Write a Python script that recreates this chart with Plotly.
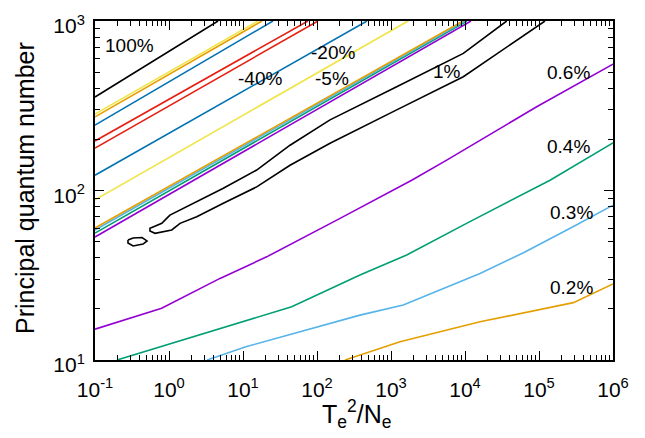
import math
import plotly.graph_objects as go

# ---- data (x = Te^2/Ne, y = principal quantum number) ----
black_top_x = [0.1, 4.6]
black_top_y = [356, 1000]

yellow_a_x = [0.1, 16.0]
yellow_a_y = [282, 1000]
orange_a_x = [0.1, 18.1]
orange_a_y = [272, 1000]
blue_a_x = [0.1, 25.4]
blue_a_y = [243, 1000]
red_a_x = [0.1, 75.5]
red_a_y = [196, 1000]
red_b_x = [0.1, 103]
red_b_y = [178, 1000]
blue_b_x = [0.1, 474]
blue_b_y = [123, 1000]
yellow_b_x = [0.1, 1700]
yellow_b_y = [88, 1000]
orange_b_x = [0.1, 9400]
orange_b_y = [60.1, 1000]
sky_b_x = [0.1, 10000]
sky_b_y = [58.5, 1000]
green_b_x = [0.1, 10640]
green_b_y = [56.1, 1000]
purple_b_x = [0.1, 12050]
purple_b_y = [53.2, 1000]

one_pct_x = [36600, 9490, 1194, 150, 43.2, 15.3, 5.42, 1.92, 1.03, 0.93, 0.80, 0.553, 0.553,
             0.647, 1.09, 1.41, 2.37, 5.42, 15.3, 43.2, 150, 1194, 9490, 120500]
one_pct_y = [1000, 644, 409, 261, 185, 132, 103, 82, 71.6, 68.5, 64.0, 59.8, 57.7,
             55.9, 58.5, 64.0, 70.0, 84.0, 105, 141, 190, 299, 469, 1000]
island_x = [0.279, 0.327, 0.432, 0.505, 0.446, 0.327, 0.279, 0.279]
island_y = [51.0, 52.5, 52.8, 50.4, 48.3, 47.1, 49.0, 51.0]

p06_x = [0.1, 0.796, 4.89, 20.9, 205, 1905, 5660, 93100, 1e6]
p06_y = [15.2, 20.2, 30.3, 40.6, 68.5, 115, 151, 312, 557]
p04_x = [0.198, 45.5, 381, 1630, 10500, 141000, 1e6]
p04_y = [10, 20.6, 31.7, 41.6, 64.0, 115, 191]
p03_x = [3.27, 11.2, 381, 1466, 15960, 60800, 288000, 1e6]
p03_y = [10, 12.0, 18.4, 21.1, 32.4, 42.8, 61.1, 82.0]
p02_x = [239, 1324, 15960, 291000, 1e6]
p02_y = [10, 12.8, 16.8, 21.8, 28.1]

label_text = ["100%", "-40%", "-20%", "-5%", "1%", "0.6%", "0.4%", "0.3%", "0.2%"]
label_x = [0.297, 17.0, 164, 160, 5710, 254000, 254000, 279000, 279000]
label_y = [721, 461, 656, 461, 507, 500, 181, 74.6, 26.6]

x_tickvals = [0.1, 1, 10, 100, 1000, 1e4, 1e5, 1e6]
x_ticktext = ["10<sup>-1</sup>", "10<sup>0</sup>", "10<sup>1</sup>", "10<sup>2</sup>",
              "10<sup>3</sup>", "10<sup>4</sup>", "10<sup>5</sup>", "10<sup>6</sup>"]
y_tickvals = [10, 100, 1000]
y_ticktext = ["10<sup>1</sup>", "10<sup>2</sup>", "10<sup>3</sup>"]

x_title = "T<sub>e</sub><sup>2</sup>/N<sub>e</sub>"
y_title = "Principal quantum number"

PURPLE = "#9400D3"
GREEN = "#009E73"
SKY = "#56B4E9"
ORANGE = "#E69F00"
YELLOW = "#F0E442"
BLUE = "#0072B2"
RED = "#E51E10"
BLACK = "#000000"
FONT = "Liberation Sans, Arial, sans-serif"

series = [
    (black_top_x, black_top_y, BLACK),
    (blue_a_x, blue_a_y, BLUE),
    (orange_a_x, orange_a_y, ORANGE),
    (yellow_a_x, yellow_a_y, YELLOW),
    (red_a_x, red_a_y, RED),
    (red_b_x, red_b_y, RED),
    (blue_b_x, blue_b_y, BLUE),
    (yellow_b_x, yellow_b_y, YELLOW),
    (purple_b_x, purple_b_y, PURPLE),
    (green_b_x, green_b_y, GREEN),
    (sky_b_x, sky_b_y, SKY),
    (orange_b_x, orange_b_y, ORANGE),
    (one_pct_x, one_pct_y, BLACK),
    (island_x, island_y, BLACK),
    (p06_x, p06_y, PURPLE),
    (p04_x, p04_y, GREEN),
    (p03_x, p03_y, SKY),
    (p02_x, p02_y, ORANGE),
]

fig = go.Figure()
for xs, ys, col in series:
    fig.add_trace(go.Scatter(x=xs, y=ys, mode="lines",
                             line=dict(color=col, width=1.6),
                             showlegend=False, hoverinfo="skip"))

# annotations on log axes are positioned in log10 units
for t, x, y in zip(label_text, label_x, label_y):
    fig.add_annotation(x=math.log10(x), y=math.log10(y), xref="x", yref="y", text=t,
                       showarrow=False, font=dict(family=FONT, size=19, color="black"))

# figure sits 8px inside the page (default body margin)
W, H = 637, 430
L, R, T, B = 87, 32, 13, 78
pw, ph = W - L - R, H - T - B


def px_to_paper(fx, fy):
    return (fx - L) / pw, (H - fy - B) / ph


tx, ty = px_to_paper(348, 406)
fig.add_annotation(x=tx, y=ty, xref="paper", yref="paper", text=x_title,
                   xanchor="center", yanchor="middle",
                   showarrow=False, font=dict(family=FONT, size=25, color="black"))
tx, ty = px_to_paper(17, 180)
fig.add_annotation(x=tx, y=ty, xref="paper", yref="paper", text=y_title,
                   xanchor="center", yanchor="middle",
                   textangle=-90, showarrow=False,
                   font=dict(family=FONT, size=25, color="black"))

minor_x = [k * 10.0 ** e for e in range(-1, 6) for k in range(2, 10)]
minor_y = [k * 10.0 ** e for e in range(1, 3) for k in range(2, 10)]

axis_common = dict(showline=True, linecolor="black", linewidth=2, mirror="allticks",
                   ticks="inside", ticklen=9, tickwidth=1, tickcolor="black",
                   showgrid=False, zeroline=False, automargin=False,
                   ticklabeloverflow="allow",
                   tickfont=dict(family=FONT, size=21, color="black"))

fig.update_xaxes(type="log", range=[-1, 6], tickvals=x_tickvals, ticktext=x_ticktext,
                 ticklabelstandoff=10,
                 minor=dict(tickvals=minor_x, ticks="inside", ticklen=5, tickcolor="black"),
                 **axis_common)
fig.update_yaxes(type="log", range=[1, 3], tickvals=y_tickvals, ticktext=y_ticktext,
                 ticklabelstandoff=4, ticklabelshift=5,
                 minor=dict(tickvals=minor_y, ticks="inside", ticklen=5, tickcolor="black"),
                 **axis_common)

fig.update_layout(width=W, height=H, margin=dict(l=L, r=R, t=T, b=B),
                  plot_bgcolor="white", paper_bgcolor="white")

fig.write_html("out.html")
